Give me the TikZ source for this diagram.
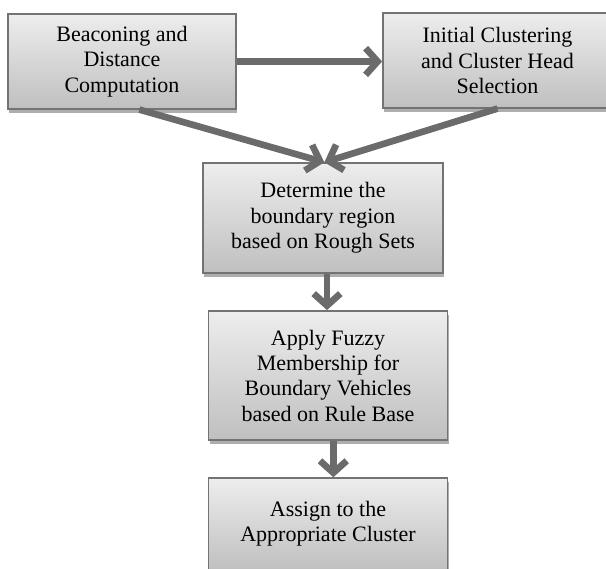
\documentclass[tikz,border=0pt]{standalone}
\usepackage{fontspec}
\setmainfont{Liberation Serif}
\usetikzlibrary{arrows.meta,shadows}

\begin{document}
\begin{tikzpicture}[x = 0.75pt, y = -0.75pt,
		stepbox/.style = {rectangle, draw = black!55, line width = 1.1pt,
			top color = black!7, bottom color = black!25, align = center,
			inner sep = 0pt, font = \fontsize{16.5}{19}\selectfont,
			drop shadow = {shadow xshift = 1pt, shadow yshift = -3pt, fill = black!45, opacity = 0.7}},
		flow/.style = {draw = black!58, line width = 5pt,
			-{Straight Barb[length = 9pt, width = 20pt]}}]
		
		\useasboundingbox (0,0) rectangle (606,568);
		
		\node [stepbox, minimum width = 171pt, minimum height = 71pt] (beacon) at (122,61.5) {Beaconing and\\Distance\\Computation};
		\node [stepbox, minimum width = 172pt, minimum height = 71pt] (initial) at (497.5,60.5) {Initial Clustering\\and Cluster Head\\Selection};
		\node [stepbox, minimum width = 180pt, minimum height = 82.5pt] (rough) at (323,218) {Determine the\\boundary region\\based on Rough Sets};
		\node [stepbox, minimum width = 179pt, minimum height = 97pt] (fuzzy) at (328,375.5) {Apply Fuzzy\\Membership for\\Boundary Vehicles\\based on Rule Base};
		\node [stepbox, minimum width = 179pt, minimum height = 69pt] (assign) at (328,524) {Assign to the\\Appropriate Cluster};
	
		\draw [flow] (beacon.east) -- (beacon.east -| initial.west);
		\draw [flow] ([xshift = 13pt]beacon.south) -- ([xshift = 1pt]rough.north);
		\draw [flow] (initial.south) -- ([xshift = 1pt]rough.north);
		\draw [flow] ([xshift = 3pt]rough.south) -- ([xshift = 3pt]rough.south |- fuzzy.north);
		\draw [flow] ([xshift = 4pt]fuzzy.south) -- ([xshift = 4pt]assign.north);
		
		\end{tikzpicture}
\end{document}
